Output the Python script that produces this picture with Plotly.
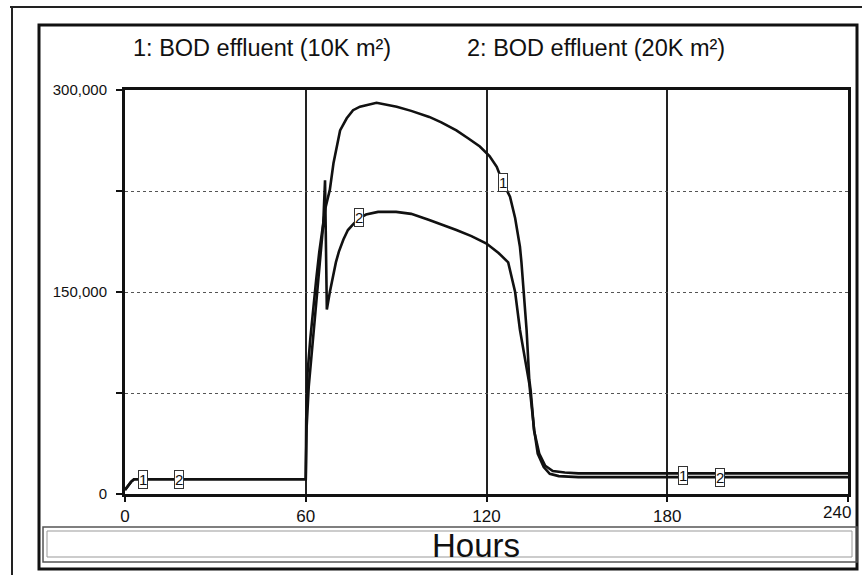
import plotly.graph_objects as go

# ---- data ----
hours_1 = [0, 1, 2, 3, 60, 60.15, 60.6, 61.5, 62.5, 63.5, 64.5, 65.5, 66.5, 68, 69.2, 71.4,
           73.6, 75.7, 78, 83.5, 90.2, 95, 101, 105, 110, 114, 117.8, 121, 123.4, 125.5,
           127.8, 129.5, 131.1, 131.6, 132.4, 133.3, 134.2, 134.7, 135.8, 137.5, 139.5,
           142, 146, 150, 150.5, 240]
bod_10k = [3000, 6000, 9000, 11000, 11000, 55000, 90000, 115000, 140000, 160000, 180000,
           198000, 212000, 226000, 245600, 270000, 279000, 285000, 287600, 290500, 287600,
           284500, 280000, 276000, 270000, 264000, 258000, 251000, 243000, 231000, 220800,
           205000, 183600, 172000, 150000, 122000, 85000, 76000, 47000, 30000, 21000,
           17000, 16000, 15800, 15300, 15300]

hours_2 = [0, 1, 2, 3, 60, 60.3, 61, 62, 63, 64, 65, 65.8, 66.4, 66.7, 67.0, 68, 69, 70,
           71, 72.5, 74, 76, 78, 80, 84, 90, 95, 101, 110, 115, 120, 124, 127.2, 129.5,
           131.1, 132.7, 134.2, 135.8, 137, 139, 141, 144, 150, 150.5, 240]
bod_20k = [3000, 6000, 9000, 11000, 11000, 50000, 80000, 105000, 130000, 150000, 175000,
           200000, 233000, 185000, 137000, 150000, 162000, 172000, 180000, 189000, 196000,
           201000, 205000, 207500, 209500, 209500, 208000, 203500, 196000, 191500, 186000,
           179000, 172000, 150000, 122000, 100000, 82000, 48000, 30000, 20000, 15000,
           13300, 13000, 12500, 12500]

x_ticks = [0, 60, 120, 180, 240]
x_tick_text = ["0", "60", "120", "180", "240"]
y_ticks = [0, 75000, 150000, 225000, 300000]
y_tick_text = ["0", "", "150,000", "", "300,000"]

legend_1 = "1: BOD effluent (10K m²)"
legend_2 = "2: BOD effluent (20K m²)"
x_title = "Hours"

# series label boxes (hour, value, text)
labels_1 = [(6.1, 11000, "1"), (125.5, 231000, "1"), (185.2, 14100, "1")]
labels_2 = [(17.9, 10500, "2"), (77.7, 205000, "2"), (197.5, 11900, "2")]

FONT = "Liberation Sans, Arial, sans-serif"

fig = go.Figure()
fig.add_trace(go.Scatter(x=hours_1, y=bod_10k, mode="lines",
                         line=dict(color="#111", width=2.6), name=legend_1))
fig.add_trace(go.Scatter(x=hours_2, y=bod_20k, mode="lines",
                         line=dict(color="#111", width=2.6), name=legend_2))

L, R, T, B = 125, 848, 90, 494
W, H = 862, 575


def px(xp):
    return (xp - L) / (R - L)


def py(yp):
    return (B - yp) / (B - T)


shapes = []
# outer thin frame lines
shapes.append(dict(type="line", xref="paper", yref="paper", x0=px(10), x1=px(862),
                   y0=py(7), y1=py(7), line=dict(color="#222", width=2)))
shapes.append(dict(type="line", xref="paper", yref="paper", x0=px(12), x1=px(12),
                   y0=py(7), y1=py(575), line=dict(color="#222", width=2)))
# inner thick frame
shapes.append(dict(type="rect", xref="paper", yref="paper", x0=px(39), x1=px(857),
                   y0=py(25), y1=py(569), line=dict(color="#111", width=3)))
# "Hours" box
shapes.append(dict(type="rect", xref="paper", yref="paper", x0=px(43), x1=px(857),
                   y0=py(527), y1=py(562), line=dict(color="#555", width=1.5)))
shapes.append(dict(type="rect", xref="paper", yref="paper", x0=px(47), x1=px(852),
                   y0=py(531), y1=py(557), line=dict(color="#999", width=1)))
fig.update_layout(shapes=shapes)

annotations = [
    dict(text=legend_1, xref="paper", yref="paper", x=px(131), y=py(48),
         xanchor="left", yanchor="middle", showarrow=False,
         font=dict(size=23.5, color="#111", family=FONT)),
    dict(text=legend_2, xref="paper", yref="paper", x=px(465), y=py(48),
         xanchor="left", yanchor="middle", showarrow=False,
         font=dict(size=23.5, color="#111", family=FONT)),
    dict(text=x_title, xref="paper", yref="paper", x=px(476), y=py(545),
         xanchor="center", yanchor="middle", showarrow=False,
         font=dict(size=33, color="#111", family=FONT)),
    # last x tick label sits just inside the frame, as in the original
    dict(text=x_tick_text[-1], x=x_ticks[-1], xref="x", yref="paper", y=py(512),
         xanchor="right", xshift=5, yanchor="middle", showarrow=False,
         font=dict(size=17, color="#111", family=FONT)),
]
for (hx, vy, t) in labels_1 + labels_2:
    annotations.append(dict(text=t, x=hx, y=vy, xref="x", yref="y", showarrow=False,
                            font=dict(size=15, color="#111", family=FONT),
                            bgcolor="white", bordercolor="#333", borderwidth=1,
                            borderpad=0))
fig.update_layout(annotations=annotations)

fig.update_xaxes(range=[0, 240], tickvals=x_ticks,
                 ticktext=x_tick_text[:-1] + [""], ticks="outside", ticklen=5,
                 tickwidth=2, tickcolor="#111", showline=True, linewidth=3,
                 linecolor="#111", mirror=True, showgrid=True, gridcolor="#222",
                 gridwidth=1.5, zeroline=False,
                 tickfont=dict(size=17, color="#111", family=FONT))
fig.update_yaxes(range=[0, 300000], tickvals=y_ticks, ticktext=y_tick_text,
                 ticks="outside", ticklen=6, tickwidth=2, tickcolor="#111",
                 showline=True, linewidth=3, linecolor="#111", mirror=True,
                 showgrid=True, gridcolor="#555", gridwidth=1.4, griddash="dot",
                 zeroline=False, ticklabelstandoff=6,
                 tickfont=dict(size=15, color="#111", family=FONT))

fig.update_layout(width=W, height=H, margin=dict(l=L, r=W - R, t=T, b=H - B),
                  paper_bgcolor="white", plot_bgcolor="white", showlegend=False,
                  font=dict(family=FONT, color="#111"))

fig.write_html("out.html", config={"displayModeBar": False},
               post_script="document.body.style.margin='0px';"
                           "document.body.style.overflow='hidden';")
